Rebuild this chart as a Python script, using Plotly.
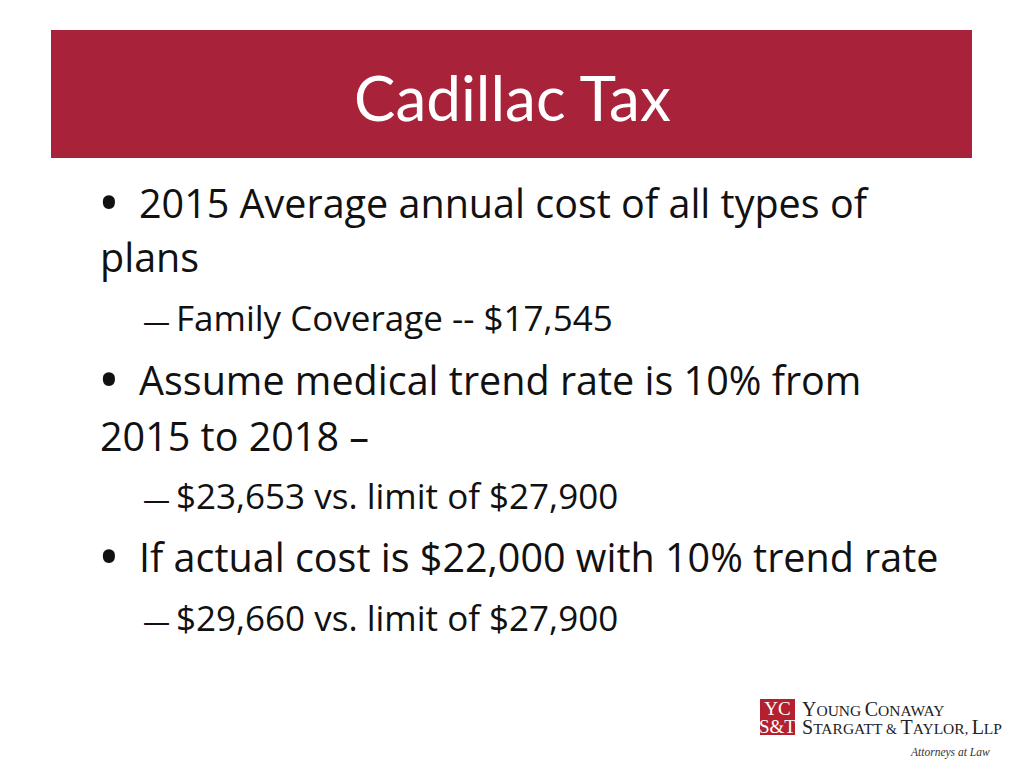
import plotly.graph_objects as go

# ---- content ----
title_text = "Cadillac Tax"
line_texts = [
    "2015 Average annual cost of all types of",
    "plans",
    "Family Coverage -- $17,545",
    "Assume medical trend rate is 10% from",
    "2015 to 2018 \u2013",
    "$23,653 vs. limit of $27,900",
    "If actual cost is $22,000 with 10% trend rate",
    "$29,660 vs. limit of $27,900",
]
# kind: 'b' = first line of bullet, 'c' = continuation, 's' = sub-bullet
line_kinds = ["b", "c", "s", "b", "c", "s", "b", "s"]
line_baselines = [218, 272, 329, 395, 451, 507, 572, 629]

logo_mark = ["YC", "S&T"]
logo_lines = ["YOUNG CONAWAY", "STARGATT & TAYLOR, LLP"]
logo_tag = "Attorneys at Law"

# page has an 8px body margin; map axis units to window pixels
OFF = 8
W, H = 1024, 768
RED = "#A8223A"
FONT = "Open Sans"
BODY = 39.5
SUB = 35

fig = go.Figure()
fig.update_xaxes(range=[OFF, W], visible=False, fixedrange=True)
fig.update_yaxes(range=[H, OFF], visible=False, fixedrange=True)

shapes = [
    dict(type="rect", x0=51, x1=972, y0=30, y1=158, fillcolor=RED, line_width=0, layer="below"),
    dict(type="rect", x0=760, x1=795, y0=699, y1=735, fillcolor="#B5202E", line_width=0, layer="below"),
]

ann = []
ann.append(dict(x=512, y=97, text=title_text, showarrow=False, xanchor="center", yanchor="middle",
                font=dict(family="Lato", size=62, color="white")))

for t, k, b in zip(line_texts, line_kinds, line_baselines):
    if k == "b":
        size = BODY
        ann.append(dict(x=96, y=b - 17, text="\u2022", showarrow=False, xanchor="left", yanchor="middle",
                        font=dict(family=FONT, size=58, color="#111")))
        x = 137
        yc = b - size * 0.38
    elif k == "c":
        size = BODY
        x = 98
        yc = b - size * 0.38
    else:
        size = SUB
        ann.append(dict(x=141, y=b - 9, text="\u2014", showarrow=False, xanchor="left", yanchor="middle",
                        font=dict(family=FONT, size=27, color="#111")))
        x = 174
        yc = b - size * 0.33
    ann.append(dict(x=x, y=yc, text=t, showarrow=False, xanchor="left", yanchor="middle",
                    font=dict(family=FONT, size=size, color="#111")))


def esc(s):
    return s.replace("&", "&amp;")


def small_caps(s, big, small):
    out = []
    prev_space = True
    for ch in s:
        if ch.isalpha() and prev_space:
            out.append(f"<span style='font-size:{big}px'>{ch}</span>")
        elif ch.isalpha():
            out.append(f"<span style='font-size:{small}px'>{ch}</span>")
        else:
            out.append(esc(ch))
        prev_space = not ch.isalpha()
    return "".join(out)


# logo mark (two lines in one text block)
ann.append(dict(x=777.5, y=717, text="<br>".join(f"<span style='font-size:19px'>{esc(s)}</span>" for s in logo_mark),
                showarrow=False, xanchor="center", yanchor="middle", align="center",
                font=dict(family="Liberation Serif", size=14, color="white")))
# firm name
ann.append(dict(x=800, y=718, text="<br>".join(small_caps(s, 20, 15.5) for s in logo_lines),
                showarrow=False, xanchor="left", yanchor="middle", align="left",
                font=dict(family="Liberation Serif", size=14, color="#222")))
ann.append(dict(x=992, y=752, text=f"<i>{logo_tag}</i>", showarrow=False, xanchor="right",
                yanchor="middle", font=dict(family="Liberation Serif", size=11.5, color="#333")))

fig.update_layout(width=W - OFF, height=H - OFF, margin=dict(l=0, r=0, t=0, b=0),
                  paper_bgcolor="white", plot_bgcolor="white",
                  shapes=shapes, annotations=ann, showlegend=False)
fig.write_html("out.html")
